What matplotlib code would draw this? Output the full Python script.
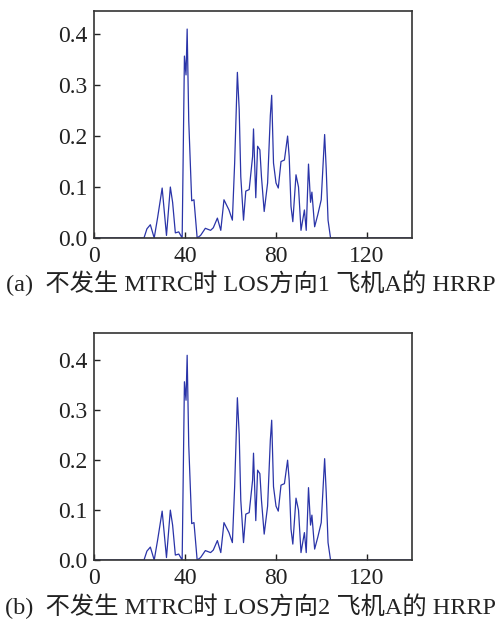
import matplotlib
matplotlib.use('Agg')
import matplotlib.pyplot as plt

# range cell / amplitude (LOS 1)
x1 = [0, 22, 23.3, 24.8, 26.5, 28, 30, 31.9, 33.6, 34.6, 35.8, 37.3, 38.8, 39.8, 40.5, 41, 41.7, 43, 44, 45.4,
      46.9, 49, 51.3, 52.5, 54.3, 55.8, 57.2, 59.4, 60.9, 61.9, 63.1, 63.9, 64.6, 65.8, 66.8, 68.3, 69.8, 70.2,
      71.2, 72, 73, 73.7, 74.9, 76.4, 77.6, 78.2, 79, 80.1, 81.1, 82.3, 83.8, 85.2, 85.9, 86.7, 87.5, 88.9,
      90, 91.1, 92.6, 93.4, 94.4, 95.3, 95.9, 97.1, 98.5, 100, 101.5, 102.2, 103, 104.1, 140]
y1 = [0, 0, 0.018, 0.026, 0.0, 0.04, 0.098, 0.005, 0.1, 0.07, 0.01, 0.012, 0.0, 0.357, 0.32, 0.41, 0.23, 0.073,
      0.075, 0.0, 0.005, 0.019, 0.015, 0.02, 0.039, 0.015, 0.075, 0.055, 0.035, 0.147, 0.325, 0.252, 0.12, 0.035,
      0.092, 0.095, 0.16, 0.214, 0.079, 0.18, 0.173, 0.12, 0.052, 0.108, 0.24, 0.28, 0.147, 0.108, 0.098, 0.15,
      0.153, 0.2, 0.16, 0.062, 0.032, 0.124, 0.1, 0.015, 0.055, 0.015, 0.145, 0.07, 0.09, 0.022, 0.046, 0.075,
      0.203, 0.135, 0.035, 0.0, 0]

# LOS 2 (looks the same in the figure)
x2 = list(x1)
y2 = list(y1)

xticks = [0, 40, 80, 120]
yticks = [0.0, 0.1, 0.2, 0.3, 0.4]
captions = ['(a)  不发生 MTRC时 LOS方向1 飞机A的 HRRP',
            '(b)  不发生 MTRC时 LOS方向2 飞机A的 HRRP']

plt.rcParams['font.family'] = ['Liberation Serif', 'Noto Sans CJK SC']

fig = plt.figure(figsize=(5.01, 6.23), dpi=100)
ax1 = fig.add_axes([0.1876, 0.618, 0.635, 0.364])
ax2 = fig.add_axes([0.1876, 0.101, 0.635, 0.364])

for ax, xs, ys, top in [(ax1, x1, y1, 0.445), (ax2, x2, y2, 0.454)]:
    ax.plot(xs, ys, color='#2a34a8', lw=0.9)
    ax.set_xlim(0, 140)
    ax.set_ylim(0, top)
    ax.set_xticks(xticks)
    ax.set_xticklabels([str(t) for t in xticks])
    ax.set_yticks(yticks)
    ax.set_yticklabels(['%.1f' % t for t in yticks])
    ax.tick_params(direction='in', length=4, width=1, labelsize=17, colors='#222222')
    ax.tick_params(axis='x', pad=6)
    ax.tick_params(axis='y', pad=5)
    for s in ax.spines.values():
        s.set_linewidth(1.2)
        s.set_color('#333333')

fig.text(0.5, 1 - 283 / 623, captions[0], ha='center', va='center', fontsize=17.5, color='#222222')
fig.text(0.5, 1 - 606 / 623, captions[1], ha='center', va='center', fontsize=17.5, color='#222222')

fig.savefig('out.png', dpi=100)
